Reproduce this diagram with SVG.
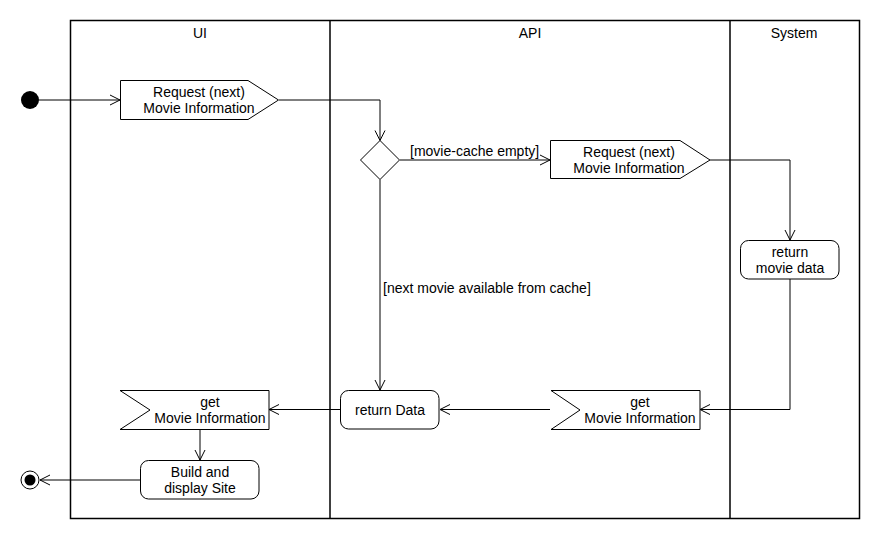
<svg xmlns="http://www.w3.org/2000/svg" width="880" height="540" viewBox="0 0 880 540">
<defs>
<marker id="arr" viewBox="0 0 12 12" refX="11" refY="6" markerWidth="12" markerHeight="12" markerUnits="userSpaceOnUse" orient="auto">
<path d="M1,1 L11,6 L1,11" fill="none" stroke="#000" stroke-width="1"/>
</marker>
</defs>
<style>
text{font-family:"Liberation Sans",Arial,sans-serif;font-size:14px;fill:#000}
.c{text-anchor:middle}
.n{fill:#fff;stroke:#000;stroke-width:1}
.e{fill:none;stroke:#000;stroke-width:1;marker-end:url(#arr)}
.lane{fill:none;stroke:#000;stroke-width:1.5}
</style>
<rect width="880" height="540" fill="#fff"/>
<g id="lanes">
<rect class="lane" x="70.5" y="20.5" width="789" height="498"/>
<line class="lane" x1="330" y1="20" x2="330" y2="519" stroke-width="2"/>
<line class="lane" x1="730" y1="20" x2="730" y2="519" stroke-width="2"/>
<text class="c" x="200" y="38">UI</text>
<text class="c" x="530" y="38">API</text>
<text class="c" x="794" y="38">System</text>
</g>
<g id="connectors">
<path class="e" d="M39,100 H120"/>
<path class="e" d="M279,100 H380 V140.5"/>
<path class="e" d="M400,160 H550"/>
<path class="e" d="M710,160 H790 V240"/>
<path class="e" d="M790,279 V409.5 H700"/>
<path class="e" d="M550,409.5 H440"/>
<path class="e" d="M380,179.5 V390"/>
<path class="e" d="M340,409.5 H269"/>
<path class="e" d="M200,429 V460"/>
<path class="e" d="M140,480 H40"/>
<text x="410" y="156">[movie-cache empty]</text>
<text x="383" y="293">[next movie available from cache]</text>
</g>
<g id="start"><circle cx="30" cy="100" r="9" fill="#000"/></g>
<g id="req-ui">
<path class="n" d="M120.5,80.5 H248 L278.5,100 L248,119.5 H120.5 Z"/>
<text class="c" x="199" y="97">Request (next)</text>
<text class="c" x="199" y="113">Movie Information</text>
</g>
<g id="decision"><path class="n" d="M380,140.5 L399.5,160 L380,179.5 L360.5,160 Z"/></g>
<g id="req-api">
<path class="n" d="M550.5,140.5 H680 L710,160 L680,178.5 H550.5 Z"/>
<text class="c" x="629" y="157">Request (next)</text>
<text class="c" x="629" y="173">Movie Information</text>
</g>
<g id="return-movie-data">
<rect class="n" x="740.5" y="240.5" width="98.5" height="38.5" rx="8"/>
<text class="c" x="790" y="257">return</text>
<text class="c" x="790" y="273">movie data</text>
</g>
<g id="get-api">
<path class="n" d="M551,390.5 H700 V429.5 H551 L580,410 Z"/>
<text class="c" x="640" y="407">get</text>
<text class="c" x="640" y="423">Movie Information</text>
</g>
<g id="return-data">
<rect class="n" x="340.5" y="390.5" width="98.5" height="38.5" rx="8"/>
<text class="c" x="390" y="415">return Data</text>
</g>
<g id="get-ui">
<path class="n" d="M120,390.5 H269 V429.5 H120 L150,410 Z"/>
<text class="c" x="210" y="407">get</text>
<text class="c" x="210" y="423">Movie Information</text>
</g>
<g id="build">
<rect class="n" x="140.5" y="460.5" width="118.5" height="38.5" rx="8"/>
<text class="c" x="200" y="477">Build and</text>
<text class="c" x="200" y="493">display Site</text>
</g>
<g id="final">
<circle cx="30" cy="480" r="9" fill="#fff" stroke="#000" stroke-width="1"/>
<circle cx="30" cy="480" r="5.5" fill="#000"/>
</g>
</svg>
